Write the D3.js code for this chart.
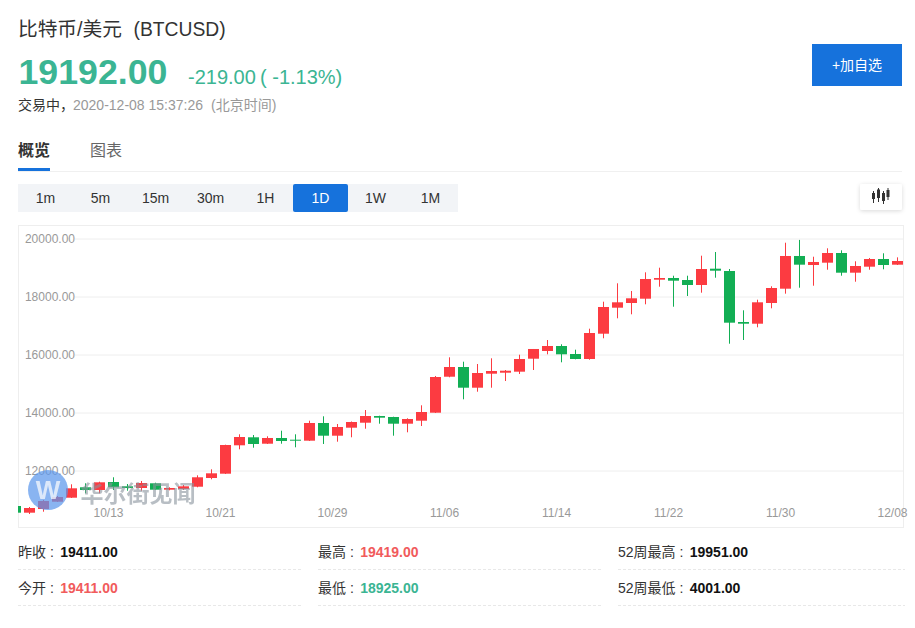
<!DOCTYPE html>
<html><head><meta charset="utf-8">
<script src="https://cdn.jsdelivr.net/npm/d3@7/dist/d3.min.js"></script>
<style>html,body{margin:0;padding:0;background:#fff;overflow:hidden}
svg{display:block}
text{font-family:"Liberation Sans","Noto Sans CJK SC",sans-serif}
</style></head><body><svg id="c" width="915" height="628"></svg>
<script>
const days=["10/06","10/07","10/08","10/09","10/10","10/11","10/12","10/13","10/14","10/15","10/16","10/17","10/18","10/19","10/20","10/21","10/22","10/23","10/24","10/25","10/26","10/27","10/28","10/29","10/30","10/31","11/01","11/02","11/03","11/04","11/05","11/06","11/07","11/08","11/09","11/10","11/11","11/12","11/13","11/14","11/15","11/16","11/17","11/18","11/19","11/20","11/21","11/22","11/23","11/24","11/25","11/26","11/27","11/28","11/29","11/30","12/01","12/02","12/03","12/04","12/05","12/06","12/07","12/08"];
const opens=[10776,10545,10672,10924,11062,11421,11328,11603,11455,11397,11559,11338,11362,11441,11741,11890,12869,13145,12924,13121,13062,13028,13638,13200,13476,13648,13879,13845,13614,13717,13993,15234,15569,14855,15338,15372,15407,15855,16121,16293,16017,15845,16717,17614,17776,17924,18579,18638,18569,18397,18959,18879,17121,17062,17776,18269,19397,19086,19166,19500,18821,19028,19293,19097];
const closes=[10545,10707,10948,11086,11386,11328,11593,11421,11397,11569,11338,11397,11455,11766,11903,12879,13155,12914,13121,13017,13028,13638,13200,13500,13672,13879,13821,13614,13776,14017,15224,15569,14855,15362,15431,15441,15845,16190,16293,16007,15845,16741,17638,17800,17938,18603,18638,18545,18397,18948,18890,17097,17062,17800,18293,19397,19097,19190,19500,18821,19052,19293,19086,19224];
const highs=[10845,10741,10983,11121,11524,11559,11614,11766,11534,11638,11579,11421,11500,11834,12041,12890,13248,13224,13179,13372,13248,13717,13869,13603,13690,14086,13890,13855,13800,14248,15259,15903,15752,15672,15869,15465,15993,16190,16500,16352,16166,16890,17821,18455,18190,18834,18993,18717,18717,19407,19534,18948,17524,17890,18352,19855,19951,19372,19662,19593,19214,19328,19490,19350];
const lows=[10500,10500,10579,10914,11052,11214,11214,11328,11303,11303,11328,11317,11328,11421,11697,11879,12731,12786,12914,12924,12800,13017,12914,12993,13145,13441,13614,13200,13317,13534,13983,15214,14455,14717,14855,15086,15328,15466,16007,15731,15834,15821,16559,17248,17386,17731,18338,17648,18017,18131,18648,16372,16500,16938,17593,18097,18303,18372,18924,18717,18510,18924,18938,19086];
const yTicks=[20000,18000,16000,14000,12000];
const xTicks=["10/13","10/21","10/29","11/06","11/14","11/22","11/30","12/08"];
const periods=["1m","5m","15m","30m","1H","1D","1W","1M"];
const activePeriod="1D";
const statLabels=[["昨收","最高","52周最高"],["今开","最低","52周最低"]];
const statValues=[["19411.00","19419.00","19951.00"],["19411.00","18925.00","4001.00"]];
const statKinds=[["k","u","k"],["u","d","k"]];

const UP="#fc3b41",DOWN="#12ae54",TGREEN="#3bb593",TRED="#f15b5c",BLUE="#1672dc";
const svg=d3.select("#c");
const defs=svg.append("defs");
defs.append("clipPath").attr("id","plot").append("rect").attr("x",18).attr("y",225).attr("width",885).attr("height",302);
const sf=defs.append("filter").attr("id","sh").attr("x","-30%").attr("y","-30%").attr("width","160%").attr("height","170%");
sf.append("feDropShadow").attr("dx",0).attr("dy",1).attr("stdDeviation",2).attr("flood-color","#000").attr("flood-opacity",0.15);

function T(x,y,s,size,fill,opt={}){return svg.append("text").attr("x",x).attr("y",y).attr("font-size",size).attr("fill",fill)
 .attr("font-weight",opt.w||"normal").attr("text-anchor",opt.a||"start").text(s);}

// header
T(18,36,"比特币/美元",19.7,"#333");
T(133.5,36,"(BTCUSD)",19.3,"#333");
T(18.5,84,"19192.00",35.7,TGREEN,{w:"bold"});
T(188,84,"-219.00",20,TGREEN);
T(260,84,"( -1.13%)",20,TGREEN);
T(18,110,"交易中，",14,"#333");
T(73,110,"2020-12-08 15:37:26",14,"#999");
T(211,110,"(北京时间)",14,"#999");
svg.append("rect").attr("x",812).attr("y",44).attr("width",90).attr("height",42).attr("fill",BLUE);
T(857,70,"+加自选",14,"#fff",{a:"middle"});

// tabs
T(18,156,"概览",16,"#333",{w:"bold"});
T(90,156,"图表",16,"#666");
svg.append("line").attr("x1",18).attr("x2",902).attr("y1",171.5).attr("y2",171.5).attr("stroke","#f0f0f0");
svg.append("rect").attr("x",18).attr("y",168).attr("width",32).attr("height",3).attr("fill",BLUE);

// period bar
const pb=d3.scaleBand().domain(periods).range([18,458]);
svg.append("rect").attr("x",18).attr("y",184).attr("width",440).attr("height",28).attr("fill","#f2f4f7");
svg.append("rect").attr("x",pb(activePeriod)+0.0).attr("y",184).attr("width",pb.bandwidth()).attr("height",28).attr("rx",2).attr("fill",BLUE);
svg.selectAll(".p").data(periods).join("text").attr("x",d=>pb(d)+pb.bandwidth()/2).attr("y",203).attr("text-anchor","middle")
 .attr("font-size",14).attr("fill",d=>d===activePeriod?"#fff":"#333").text(d=>d);

// chart-type button
svg.append("rect").attr("x",860).attr("y",184).attr("width",42).attr("height",26).attr("rx",2).attr("fill","#fff").attr("filter","url(#sh)");
const ic=svg.append("g").attr("fill","#333").attr("stroke","#333");
[[873.5,193,199,191,203],[878.5,189.5,198,188,202],[883.5,193,201,191,204],[888,190,197,188,200]].forEach(a=>{
 ic.append("line").attr("x1",a[0]).attr("x2",a[0]).attr("y1",a[3]).attr("y2",a[4]).attr("stroke-width",1);
 ic.append("rect").attr("x",a[0]-1.5).attr("y",a[1]).attr("width",3).attr("height",a[2]-a[1]).attr("stroke","none");
});

// chart frame
svg.append("rect").attr("x",18.5).attr("y",225.5).attr("width",885).attr("height",302).attr("fill","none").attr("stroke","#eee");

const y=d3.scaleLinear().domain([20000,12000]).range([238.5,470.5]);
const x=d3.scalePoint().domain(days).range([15.5,897.5]);

// grid + y axis
const ya=svg.append("g").attr("transform","translate(75,0)").call(d3.axisLeft(y).tickValues(yTicks).tickSize(0).tickPadding(0).tickFormat(d3.format(".2f")));
ya.select(".domain").remove();
ya.selectAll("text").attr("font-size",12).attr("fill","#999").attr("font-family",null);
ya.selectAll(".tick").append("line").attr("x1",0).attr("x2",828).attr("stroke","#eee");

// x axis
const xa=svg.append("g").attr("transform","translate(-5.5,505)").call(d3.axisBottom(x).tickValues(xTicks).tickSize(0).tickPadding(3));
xa.select(".domain").remove();
xa.selectAll("text").attr("font-size",12).attr("fill","#999").attr("font-family",null);

// candles
const idx=d3.range(days.length);
const g=svg.append("g").attr("clip-path","url(#plot)");
const col=i=>closes[i]>=opens[i]?UP:DOWN;
g.selectAll(".w").data(idx).join("line").attr("x1",i=>x(days[i])).attr("x2",i=>x(days[i]))
 .attr("y1",i=>y(highs[i])).attr("y2",i=>y(lows[i])).attr("stroke",col).attr("stroke-width",1);
g.selectAll(".b").data(idx).join("rect").attr("x",i=>x(days[i])-5.5).attr("width",11)
 .attr("y",i=>y(Math.max(opens[i],closes[i]))).attr("height",i=>Math.max(1,Math.abs(y(opens[i])-y(closes[i])))).attr("fill",col);

// watermark
const wm=svg.append("g");
wm.append("circle").attr("cx",48).attr("cy",490).attr("r",20).attr("fill","#5c97ec").attr("opacity",0.72);
wm.append("text").attr("x",48).attr("y",499).attr("text-anchor","middle").attr("font-size",26).attr("font-weight","bold").attr("fill","#fff").attr("opacity",0.7).text("W");
wm.append("text").attr("x",80.5).attr("y",502).attr("font-size",23).attr("font-weight","bold").attr("fill","#8a949d").attr("opacity",0.6).text("华尔街见闻");

// stats
const cols=[18,318,618],rowsY=[557,593],lineY=[569.5,605.5],lineW=[284,285,287];
statLabels.forEach((r,ri)=>r.forEach((l,ci)=>{
 const t=svg.append("text").attr("x",cols[ci]).attr("y",rowsY[ri]).attr("font-size",14);
 t.append("tspan").attr("fill","#333").text(l+" : ");
 const k=statKinds[ri][ci];
 t.append("tspan").attr("dx",2.5).attr("font-weight","bold").attr("fill",k==="u"?TRED:k==="d"?TGREEN:"#111").text(statValues[ri][ci]);
 svg.append("line").attr("x1",cols[ci]).attr("x2",cols[ci]+lineW[ci]).attr("y1",lineY[ri]).attr("y2",lineY[ri]).attr("stroke","#e8e8e8").attr("stroke-dasharray","3,2");
}));
</script></body></html>
